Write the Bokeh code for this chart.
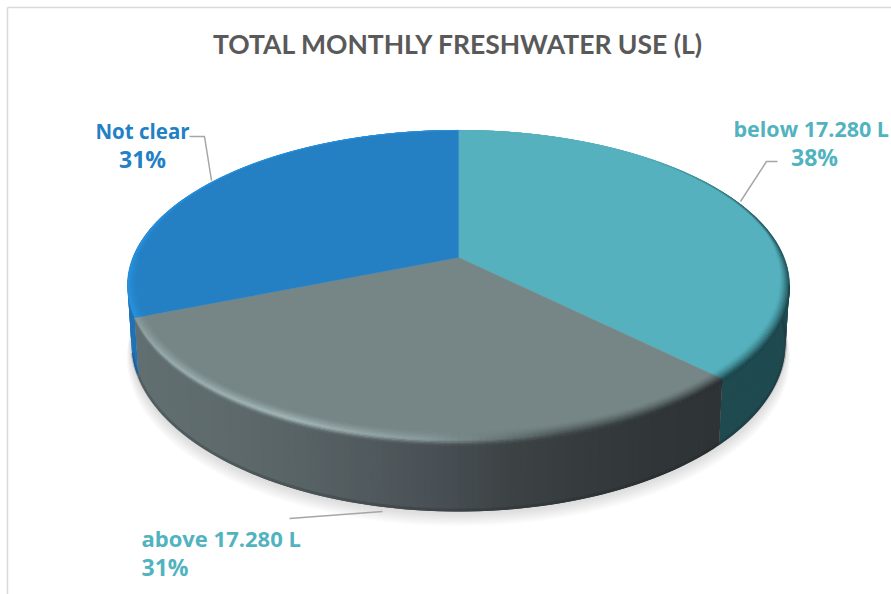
import numpy as np
from bokeh.plotting import figure
from bokeh.models import Range1d, ColumnDataSource
from bokeh.core.properties import value
from bokeh.embed import file_html
from bokeh.resources import INLINE

title_text = "TOTAL MONTHLY FRESHWATER USE (L)"
categories = ["below 17.280 L", "above 17.280 L", "Not clear"]
shares = [37.5, 31.4, 31.1]
share_labels = ["38%", "31%", "31%"]

face_colors = ["#55B1BD", "#768686", "#2480C3"]
label_colors = ["#52B3C0", "#52B3C0", "#2380C4"]
TITLE_FONT = "Lato"
LABEL_FONT = "Open Sans"

W, H = 891, 594
p = figure(width=W, height=H, output_backend="svg", toolbar_location=None,
           x_range=Range1d(0, W), y_range=Range1d(H, 0),
           min_border=0, outline_line_color=None, background_fill_color="white")
p.axis.visible = False
p.grid.visible = False

K = 0.1806
CX = 458.0


def project(theta, y0, A, B, r=1.0):
    t = np.radians(theta)
    u, v = r * np.sin(t), -r * np.cos(t)
    w = 1 - K * v
    return CX + A * u / w, y0 + B * v / w


def top(theta):
    return project(theta, 257.0, 325.5, 150.0)


def bottom(theta):
    return project(theta, 312.7, 321.6, 162.5)


def hex2rgb(c):
    return np.array([int(c[i:i + 2], 16) for i in (1, 3, 5)], float)


def rgb2hex(a):
    return "#%02x%02x%02x" % tuple(int(round(x)) for x in a)


def ramp(pos, stops):
    xs = [s[0] for s in stops]
    cols = np.array([hex2rgb(s[1]) for s in stops])
    return np.array([np.interp(pos, xs, cols[:, i]) for i in range(3)])


fractions = np.array(shares) / sum(shares) * 360
ends = np.cumsum(fractions)
starts = ends - fractions

# soft shadow beneath the disc
ts = np.linspace(0, 360, 241)
for k in range(1, 10):
    bx, by = bottom(ts)
    grow = 1 + 0.0016 * k
    sx = CX + (bx - CX) * grow
    sy = by + 1.6 * k
    p.patch(sx, sy, fill_color="#808080", fill_alpha=0.035, line_color=None)

side_stops = [
    [(0, "#1F4A50"), (1, "#1F4A50")],
    [(135, "#626F71"), (220, "#5E6A6C"), (300, "#58636"+"6"), (380, "#4F585C"), (440, "#484F54"),
     (500, "#3E4446"), (580, "#363C3E"), (660, "#303537"), (720, "#2E3335")],
    [(0, "#1F72B5"), (1000, "#1F72B5")],
]

# side wall: each strip overlaps the next one, so that no seam shows
sxs, sys, scol = [], [], []
for s, a, b, stops in zip(range(3), starts, ends, side_stops):
    grid = np.linspace(a, b, max(int((b - a)), 2) + 1)
    tx, ty = top(grid)
    bx, by = bottom(grid)
    last = len(grid) - 1
    for i in range(last):
        j = min(i + 2, last)
        mx = (tx[i] + tx[i + 1]) / 2
        if np.cos(np.radians((grid[i] + grid[i + 1]) / 2)) > 0.45:
            continue
        sxs.append([tx[i], tx[j], bx[j], bx[i]])
        sys.append([ty[i], ty[j], by[j], by[i]])
        scol.append(rgb2hex(ramp(mx, stops)))
p.patches("x", "y", source=ColumnDataSource(dict(x=sxs, y=sys, c=scol)),
          fill_color="c", line_color=None)

# darker line at the foot of the wall
ft = np.linspace(ends[0] - 45, ends[1] + 8, 200)
fx, fy = bottom(ft)
p.line(fx, fy - 1.5, line_color="#1d2224", line_alpha=0.22, line_width=3)

# top faces
for a, b, c in zip(starts, ends, face_colors):
    grid = np.linspace(a, b, 200)
    x, y = top(grid)
    p.patch(np.r_[CX, x], np.r_[257.0, y], fill_color=c, line_color=c, line_width=0.5)

# bevel on the rim
edge_stops = [
    [(0, "#55B1BD"), (40, "#55B1BD"), (75, "#1F4A50"), (360, "#1F4A50")],
    [(137, "#2F3537"), (165, "#4A5456"), (185, "#8D9EA0"), (205, "#A8BBBD"), (235, "#9AAEB0"), (250, "#8A9C9E")],
    [(0, "#2A93E0"), (360, "#2A93E0")],
]
eps_t = [15, 50, 80, 100, 135, 180, 248, 275, 310, 345]
eps_v = [0.001, 0.006, 0.012, 0.03, 0.045, 0.055, 0.035, 0.022, 0.006, 0.001]
APEX_Y = 257.0
n_bands = 6
bxs, bys, bcol = [], [], []
for a, b, c, stops in zip(starts, ends, face_colors, edge_stops):
    grid = np.linspace(a, b, max(int(b - a), 2) + 1)
    x, y = top(grid)
    eps = np.interp(grid, eps_t, eps_v)
    face = hex2rgb(c)
    for j in range(n_bands):
        o0 = 1 - j / n_bands
        o1 = 1 - (j + 1) / n_bands
        s = ((j + 0.5) / n_bands) ** 1.4
        x0 = x + (CX - x) * eps * o0
        y0 = y + (APEX_Y - y) * eps * o0
        x1 = x + (CX - x) * eps * o1
        y1 = y + (APEX_Y - y) * eps * o1
        for i in range(len(grid) - 1):
            m = (grid[i] + grid[i + 1]) / 2
            e = ramp(m, stops)
            col = rgb2hex(face + (e - face) * s)
            bxs.append([x0[i], x0[i + 1], x1[i + 1], x1[i]])
            bys.append([y0[i], y0[i + 1], y1[i + 1], y1[i]])
            bcol.append(col)

# soft transition from the rim down into the wall, on the front of the disc
n_soft = 4
for a, b, stops, wall in zip(starts[:2], ends[:2], edge_stops[:2], side_stops[:2]):
    grid = np.linspace(max(a, 100), b, max(int(b - max(a, 100)), 2) + 1)
    x, y = top(grid)
    drop = 5.0 * np.clip(-np.cos(np.radians(grid)), 0, 1) ** 0.5
    for j in range(n_soft):
        d0 = drop * j / n_soft
        d1 = drop * (j + 1) / n_soft
        s = (j + 0.5) / n_soft
        for i in range(len(grid) - 1):
            m = (grid[i] + grid[i + 1]) / 2
            e = ramp(m, stops)
            w = ramp((x[i] + x[i + 1]) / 2, wall)
            bxs.append([x[i], x[i + 1], x[i + 1], x[i]])
            bys.append([y[i] + d0[i], y[i + 1] + d0[i + 1], y[i + 1] + d1[i + 1], y[i] + d1[i]])
            bcol.append(rgb2hex(e + (w - e) * s))
p.patches("x", "y", source=ColumnDataSource(dict(x=bxs, y=bys, c=bcol)),
          fill_color="c", line_color="c", line_width=0.4)

# chart frame
p.line([7, 7], [H, 7], line_color="#D9D9D9", line_width=1.5)
p.line([7, W], [7, 7], line_color="#D9D9D9", line_width=1.5)

# leader lines
leaders = [
    ([740, 766, 777], [201, 161, 161]),
    ([382, 289], [511, 518]),
    ([189, 204, 211], [136, 136, 180]),
]
for lx, ly in leaders:
    p.line(lx, ly, line_color="#A6A6A6", line_width=1.5)


def txt(x, y, t, color, size, font, align="center"):
    p.text([x], [y], text=[t], text_color=color, text_font=value(font), text_font_style="bold",
           text_font_size=size, text_align=align, text_baseline="middle")


txt(458, 43, title_text, "#595959", "26.5px", TITLE_FONT)
txt(733, 128, categories[0], label_colors[0], "21.5px", LABEL_FONT, "left")
txt(814, 156, share_labels[0], label_colors[0], "23px", LABEL_FONT)
txt(141, 537, categories[1], label_colors[1], "22px", LABEL_FONT, "left")
txt(141, 566, share_labels[1], label_colors[1], "23px", LABEL_FONT, "left")
txt(142, 130, categories[2], label_colors[2], "20.5px", LABEL_FONT)
txt(142, 158, share_labels[2], label_colors[2], "23px", LABEL_FONT)

open("out.html", "w").write(file_html(p, INLINE))
